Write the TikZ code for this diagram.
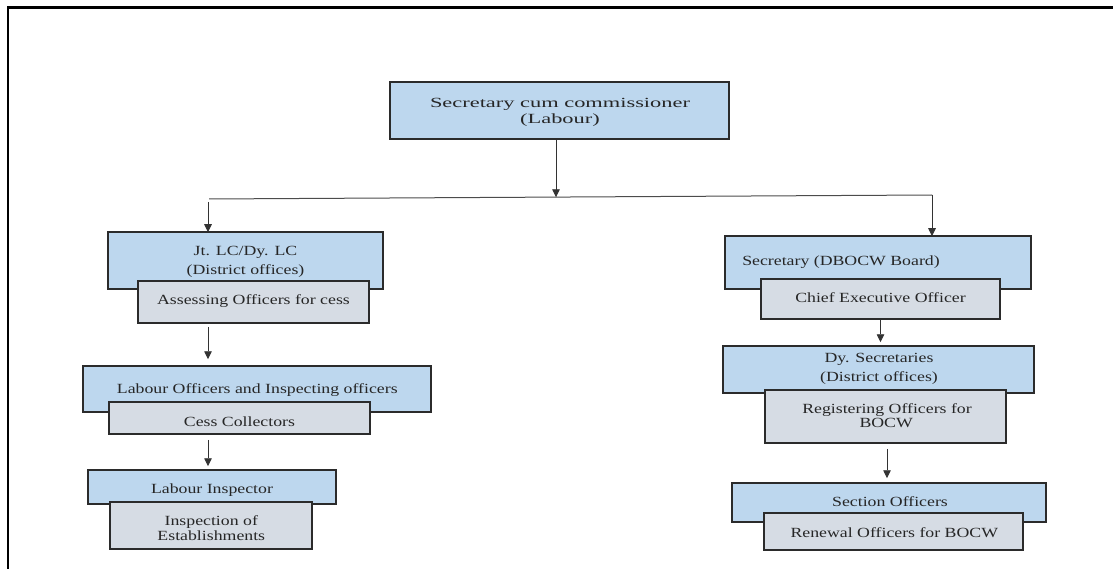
\documentclass[tikz,border=0pt]{standalone}
\usepackage{fontspec}
\setmainfont{Liberation Serif}[FakeStretch=1.27]
\newfontfamily\topfont{Liberation Serif}[FakeStretch=1.6]
\usetikzlibrary{arrows.meta}
\definecolor{boxblue}{HTML}{BDD7EE}
\definecolor{boxgrey}{HTML}{D6DCE4}
\definecolor{edgegrey}{HTML}{2B2B2B}
\tikzset{
  bluebox/.style={draw=edgegrey, line width=1.5pt, fill=boxblue, inner sep=0pt},
  greybox/.style={draw=edgegrey, line width=1.5pt, fill=boxgrey, inner sep=0pt},
  lbl/.style={anchor=base, inner sep=0pt, font=\fontsize{14}{16}\selectfont, text=black!85},
  toplbl/.style={anchor=base, inner sep=0pt, font=\topfont\fontsize{14}{16}\selectfont, text=black!85},
  arr/.style={draw=black!80, line width=0.9pt, -{Triangle[length=8pt,width=7.5pt]}},
  plain/.style={draw=black!70, line width=1pt},
}
\newcommand{\bx}[6]{\node[#1, minimum width=#4pt, minimum height=#5pt] (#2) at (#3) {};}
\begin{document}
\begin{tikzpicture}[x=1pt,y=-1pt]
\useasboundingbox (0,0) rectangle (1113,569);
% frame
\draw[line width=2.6pt] (8,569) -- (8,7.5) -- (1113,7.5);

% top
\bx{bluebox}{top}{559.5,110.5}{339}{57}{}
\node[toplbl] (t0a) at (560,108) {Secretary cum commissioner};
\node[toplbl] (t0b) at (560,124) {(Labour)};

% left column
\bx{bluebox}{b1}{245.5,260.5}{275}{57}{}
\node[lbl] (t1a) at (245.5,255) {Jt. LC/Dy. LC};
\node[lbl] (t1b) at (245.5,275) {(District offices)};
\bx{greybox}{g1}{253.5,302}{231}{42}{}
\node[lbl] (t1c) at (253.5,305) {Assessing Officers for cess};

\bx{bluebox}{b2}{257,389}{348}{46}{}
\node[lbl] (t2a) at (257.3,393.3) {Labour Officers and Inspecting officers};
\bx{greybox}{g2}{239.5,418}{261}{32}{}
\node[lbl] (t2b) at (239.5,426) {Cess Collectors};

\bx{bluebox}{b3}{212,487}{248}{34}{}
\node[lbl] (t3a) at (212,493.3) {Labour Inspector};
\bx{greybox}{g3}{211,525.5}{202}{47}{}
\node[lbl] (t3b) at (211.3,525.7) {Inspection of};
\node[lbl] (t3c) at (211.3,540.5) {Establishments};

% right column
\bx{bluebox}{r1}{878,262.5}{306}{53}{}
\node[lbl] (u1a) at (841,265.7) {Secretary (DBOCW Board)};
\bx{greybox}{rg1}{880.5,299}{239}{40}{}
\node[lbl] (u1b) at (880.5,302.3) {Chief Executive Officer};

\bx{bluebox}{r2}{878.5,369.5}{311}{47}{}
\node[lbl] (u2a) at (879,362.3) {Dy. Secretaries};
\node[lbl] (u2b) at (879,381.5) {(District offices)};
\bx{greybox}{rg2}{885.5,416.5}{241}{53}{}
\node[lbl] (u2c) at (887,413.3) {Registering Officers for};
\node[lbl] (u2d) at (886.2,427.7) {BOCW};

\bx{bluebox}{r3}{889,502.5}{314}{39}{}
\node[lbl] (u3a) at (890,506) {Section Officers};
\bx{greybox}{rg3}{893.5,531.5}{259}{37}{}
\node[lbl] (u3b) at (894.3,537.3) {Renewal Officers for BOCW};

% connectors
\coordinate (hl) at (209,199);
\coordinate (hr) at (932,195);
\coordinate (mid) at (556,197.3);
\coordinate (la) at (208,202);
\draw[plain] (hl) -- (hr);
\draw[arr] (top.south -| mid) -- (mid);
\draw[arr] (la) -- ([yshift=-1pt]b1.north -| la);
\draw[arr] (hr) -- ([yshift=-1pt]r1.north -| hr);

\draw[arr] ([yshift=-3pt]g1.south -| la) -- ([yshift=6pt]b2.north -| la);
\draw[arr] ([yshift=-5pt]g2.south -| la) -- ([yshift=3pt]b3.north -| la);

\coordinate (rx1) at (880.5,0);
\coordinate (rx2) at (887,0);
\draw[arr] (rg1.south -| rx1) -- ([yshift=3pt]r2.north -| rx1);
\draw[arr] ([yshift=-5pt]rg2.south -| rx2) -- ([yshift=4pt]r3.north -| rx2);
\end{tikzpicture}
\end{document}
